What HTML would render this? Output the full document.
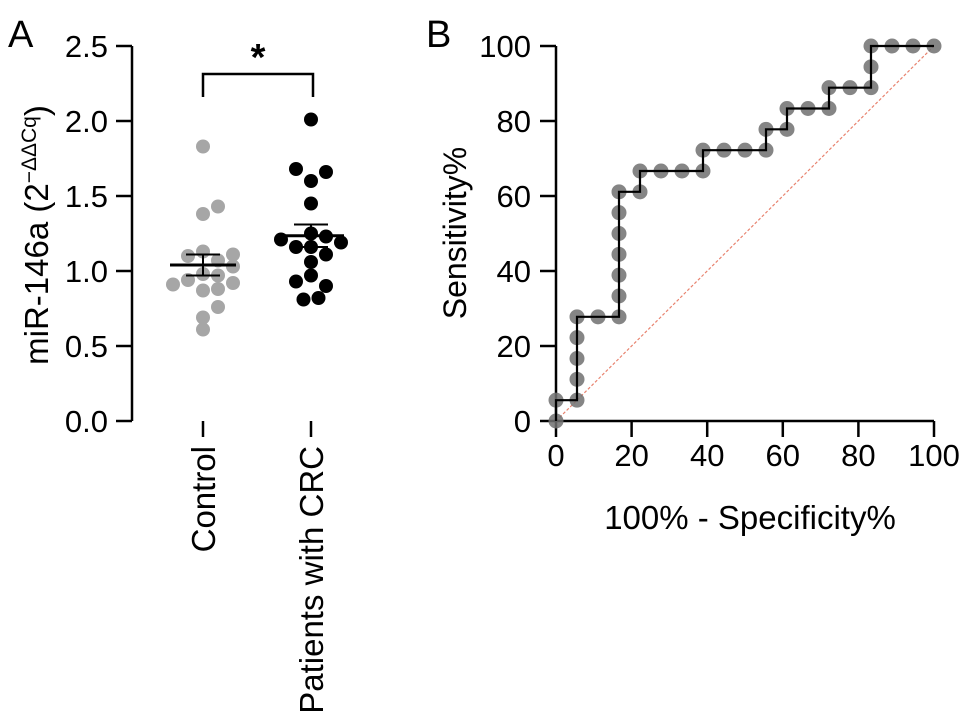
<!DOCTYPE html>
<html><head><meta charset="utf-8"><style>
body{margin:0;background:#fff}
svg{display:block;font-family:"Liberation Sans",Arial,sans-serif}
</style></head><body>
<svg id="c" width="969" height="724">
<text x="8" y="47" font-size="38">A</text>
<text x="426" y="47" font-size="38">B</text>
<g id="a"></g>
<g id="b"></g>
</svg>
<script>
const yTicks=[0,0.5,1.0,1.5,2.0,2.5];
const groups=["Control","Patients with CRC"];
const controlVals=[1.83,1.43,1.38,1.13,1.10,1.11,1.07,1.03,0.98,0.97,0.94,0.91,0.92,0.87,0.88,0.76,0.69,0.61];
const controlJit=[0,1,0,0,-1,2,1,2,0,1,-1,-2,2,0,1,1,0,0];
const crcVals=[2.01,1.68,1.66,1.60,1.45,1.21,1.25,1.23,1.19,1.16,1.16,1.11,1.06,0.93,0.97,0.90,0.81,0.82];
const crcJit=[0,-1,1,0,0,-2,0,1,2,-1,0,1,0,-1,0,1,-0.5,0.5];
const controlMean=1.04, controlSem=0.07, crcMean=1.235, crcSem=0.075;
const rocX=[0,0,1,1,1,1,1,2,3,3,3,3,3,3,3,4,4,5,6,7,7,8,9,10,10,11,11,12,13,13,14,15,15,15,16,17,18].map(v=>v*100/18);
const rocY=[0,1,1,2,3,4,5,5,5,6,7,8,9,10,11,11,12,12,12,12,13,13,13,13,14,14,15,15,15,16,16,16,17,18,18,18,18].map(v=>v*100/18);
const bTicks=[0,20,40,60,80,100];
const NS="http://www.w3.org/2000/svg";
function mk(p,t,a,txt){const e=document.createElementNS(NS,t);for(const k in a)e.setAttribute(k,a[k]);if(txt!=null)e.textContent=txt;p.appendChild(e);return e;}
const A=document.getElementById('a');
const ay=v=>421-v*150, gx=[203,311], jw=15;
let e=mk(A,'line',{x1:132,y1:46,x2:132,y2:421,stroke:'#000','stroke-width':2.5});

yTicks.forEach(t=>{
 e=mk(A,'line',{x1:116,x2:132,y1:ay(t),y2:ay(t),stroke:'#000','stroke-width':2.5});
 
 e=mk(A,'text',{x:108,y:ay(t)+11,'font-size':31,'text-anchor':'end'},t.toFixed(1));
 
});
e=mk(A,'text',{transform:'translate(48,235) rotate(-90)','font-size':33,'text-anchor':'middle'});
e.innerHTML='miR-146a (2<tspan dy="-12" font-size="21">−ΔΔCq</tspan><tspan dy="12">)</tspan>';

groups.forEach((g,i)=>{
 e=mk(A,'line',{x1:gx[i],x2:gx[i],y1:421,y2:437,stroke:'#000','stroke-width':2.5});
 
 e=mk(A,'text',{transform:`translate(${gx[i]+12},446) rotate(-90)`,'font-size':33,'text-anchor':'end'},g);
 
});
controlVals.forEach((v,i)=>{e=mk(A,'circle',{cx:gx[0]+controlJit[i]*jw,cy:ay(v),r:7,fill:'#a6a6a6'});
 });
crcVals.forEach((v,i)=>{e=mk(A,'circle',{cx:gx[1]+crcJit[i]*jw,cy:ay(v),r:7,fill:'#000'});
 });
[[controlMean,controlSem,0],[crcMean,crcSem,1]].forEach(([m,s,i])=>{
 e=mk(A,'line',{x1:gx[i]-33,x2:gx[i]+33,y1:ay(m),y2:ay(m),stroke:'#000','stroke-width':3});
 
 e=mk(A,'path',{d:`M${gx[i]} ${ay(m-s)}V${ay(m+s)}M${gx[i]-17} ${ay(m+s)}H${gx[i]+17}M${gx[i]-17} ${ay(m-s)}H${gx[i]+17}`,stroke:'#000','stroke-width':2,fill:'none'});
 
});
e=mk(A,'path',{d:'M203 97V74H313V97',stroke:'#000','stroke-width':2.5,fill:'none'});

e=mk(A,'text',{x:258,y:70,'font-size':38,'text-anchor':'middle','font-weight':'bold'},'*');


const B=document.getElementById('b');
const bx=v=>556+v*3.78, by=v=>421-v*3.75;
e=mk(B,'line',{x1:bx(0),y1:by(0),x2:bx(100),y2:by(100),stroke:'#e8836f','stroke-width':1.2,'stroke-dasharray':'3,2'});

e=mk(B,'path',{d:'M556 46V421H934',stroke:'#000','stroke-width':2.5,fill:'none'});

bTicks.forEach(t=>{
 e=mk(B,'line',{x1:540,x2:556,y1:by(t),y2:by(t),stroke:'#000','stroke-width':2.5});
 
 e=mk(B,'text',{x:531,y:by(t)+11,'font-size':31,'text-anchor':'end'},t);
 
 e=mk(B,'line',{x1:bx(t),x2:bx(t),y1:421,y2:437,stroke:'#000','stroke-width':2.5});
 
 e=mk(B,'text',{x:bx(t),y:466,'font-size':31,'text-anchor':'middle'},t);
 
});
e=mk(B,'text',{transform:'translate(466,233) rotate(-90)','font-size':32,'text-anchor':'middle'},'Sensitivity%');

e=mk(B,'text',{x:750,y:529,'font-size':33,'text-anchor':'middle'},'100% - Specificity%');

rocX.forEach((x,i)=>{e=mk(B,'circle',{cx:bx(x),cy:by(rocY[i]),r:7.5,fill:'#707070','fill-opacity':0.85});
 });
let d='';rocX.forEach((x,i)=>{d+=(i?'L':'M')+bx(x)+' '+by(rocY[i]);});
e=mk(B,'path',{d:d,stroke:'#000','stroke-width':2.2,fill:'none'});

</script>
</body></html>
